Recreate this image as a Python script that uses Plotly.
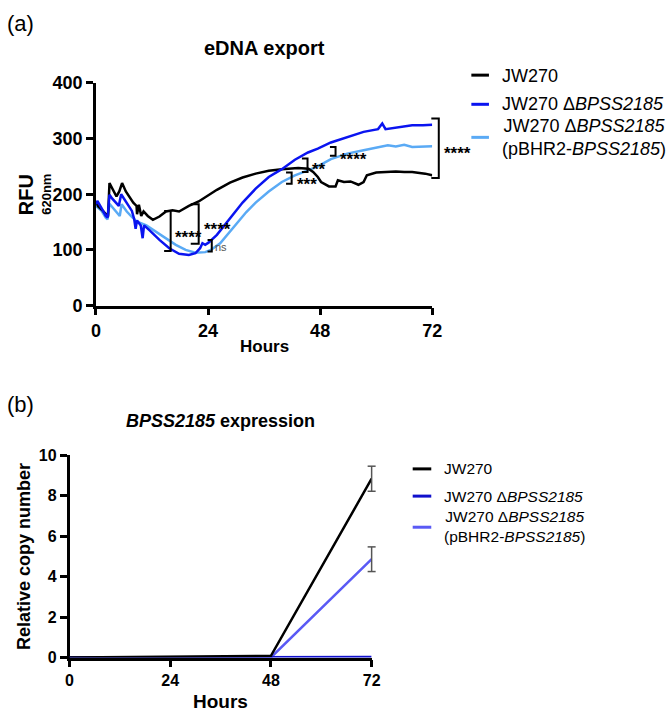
import plotly.graph_objects as go

# ---------------- Panel (a) data: eDNA export (RFU 620nm) ----------------
hours_jw = [0, 0.5, 1.5, 2.6, 2.9, 3.6, 4.4, 5.0, 5.6, 6.4, 7.3, 8.0, 8.7, 8.8, 9.2, 9.7, 10.2,
            11.1, 12.2, 13.6, 15.0, 16.4, 17.8, 19.9, 22.0, 23.7, 25.9, 28.7, 31.4, 34.2,
            37.0, 39.8, 43.3, 45.5, 46.5, 47.5, 48.2, 49.9, 51.3, 51.8, 53.1, 54.5, 56.2,
            57.3, 58.0, 60.0, 62.0, 64.2, 66.0, 67.7, 70.5, 72.0]
rfu_jw = [187, 178, 170, 160, 220, 210, 196, 205, 220, 205, 193, 185, 179, 164, 181, 161, 169,
          161, 154, 160, 169, 171, 169, 179, 187, 196, 208, 221, 230, 237,
          242, 245, 247, 246, 240, 231, 222, 214, 214, 225, 222, 223, 217,
          222, 234, 239, 240, 241, 240, 240, 237, 234]

hours_del = [0, 0.3, 1.2, 2.1, 2.5, 2.9, 3.5, 4.2, 4.9, 5.4, 6.0, 6.6, 7.7, 8.2, 8.5, 8.8,
             9.6, 10.0, 10.3, 11.5, 13.6, 15.7, 17.8, 19.9, 21.3, 22.3, 22.8, 23.4, 24.1,
             25.9, 28.7, 31.4, 34.2, 37.0, 39.8, 42.6, 45.4, 47.5, 50.3, 53.8, 57.3, 60.4,
             61.3, 62.0, 64.2, 67.7, 70.0, 72.0]
rfu_del = [182, 188, 175, 161, 158, 199, 192, 185, 179, 200, 192, 185, 170, 155, 138, 153,
           144, 121, 144, 135, 118, 103, 93, 91, 94, 103, 112, 109, 113,
           127, 156, 185, 210, 231, 245, 262, 275, 282, 293, 303, 312, 317,
           327, 317, 320, 324, 324, 325]

hours_comp = [0, 1.2, 2.1, 2.5, 2.9, 3.6, 4.4, 5.1, 5.5, 6.6, 7.6, 8.7, 10.8, 12.9, 15.0,
              17.1, 19.2, 21.3, 23.4, 24.6, 26.6, 29.4, 32.2, 34.2, 37.0, 39.8, 42.6, 45.4,
              47.5, 50.3, 53.8, 57.3, 60.7, 62.5, 64.2, 66.0, 67.7, 70.0, 72.0]
rfu_comp = [179, 170, 158, 155, 183, 176, 168, 161, 182, 169, 160, 151, 144, 132, 120,
            109, 100, 95, 96, 100, 112, 140, 168, 185, 205, 222, 234, 243,
            250, 263, 273, 279, 284, 288, 286, 289, 285, 286, 286]

# significance brackets: (x hour, y bottom, y top, arm length in hours, label, label x, label y)
brackets = [
    (16.0, 98, 170, 1.4, "****", 19.9, 132),
    (22.0, 111, 182, 1.7, "****", 26.1, 145),
    (24.8, 97, 118, 0.9, "ns", 26.7, 106),
    (41.9, 219, 239, 1.2, "***", 45.2, 227),
    (45.3, 240, 264, 1.2, "**", 47.7, 253),
    (51.3, 269, 285, 1.2, "****", 55.2, 271),
    (73.4, 229, 336, 1.6, "****", 77.3, 282),
]

# ---------------- Panel (b) data: BPSS2185 expression ----------------
hours_b = [0, 24, 48, 72]
copy_jw = [0.0, 0.03, 0.08, 8.84]
copy_jw_err = [0, 0, 0, 0.62]
copy_del = [0.0, 0.0, 0.0, 0.02]
copy_comp = [0.0, 0.0, 0.0, 4.86]
copy_comp_err = [0, 0, 0, 0.61]

series_names = ["JW270", "JW270 Δ<i>BPSS2185</i>", "JW270 Δ<i>BPSS2185</i><br>(pBHR2-<i>BPSS2185</i>)"]
colors_a = ["#000000", "#0A14F0", "#5AAAF5"]
colors_b = ["#000000", "#1010CC", "#5A5AF5"]

FONT = "Liberation Sans, Arial, Helvetica, sans-serif"
W, H = 672, 720
XMAX_A, YMAX_A = 72, 400
XMAX_B, YMAX_B = 72, 10

fig = go.Figure()

# Panel (a) traces
fig.add_trace(go.Scatter(x=hours_comp, y=rfu_comp, mode="lines", line=dict(color=colors_a[2], width=2.5),
                         name=series_names[2], xaxis="x", yaxis="y", showlegend=False))
fig.add_trace(go.Scatter(x=hours_jw, y=rfu_jw, mode="lines", line=dict(color=colors_a[0], width=2.5),
                         name=series_names[0], xaxis="x", yaxis="y", showlegend=False))
fig.add_trace(go.Scatter(x=hours_del, y=rfu_del, mode="lines", line=dict(color=colors_a[1], width=2.5),
                         name=series_names[1], xaxis="x", yaxis="y", showlegend=False))

# Panel (b) traces
fig.add_trace(go.Scatter(x=hours_b, y=copy_comp, mode="lines", line=dict(color=colors_b[2], width=2.5),
                         name=series_names[2], xaxis="x2", yaxis="y2", showlegend=False, cliponaxis=False))
fig.add_trace(go.Scatter(x=hours_b, y=copy_del, mode="lines", line=dict(color=colors_b[1], width=2.5),
                         name=series_names[1], xaxis="x2", yaxis="y2", showlegend=False, cliponaxis=False))
fig.add_trace(go.Scatter(x=hours_b, y=copy_jw, mode="lines", line=dict(color=colors_b[0], width=2.5),
                         name=series_names[0], xaxis="x2", yaxis="y2", showlegend=False, cliponaxis=False))

def px_x(p):
    return p / W

def px_y(p):
    return 1 - p / H

axis_common = dict(showline=True, linewidth=2.5, linecolor="black", ticks="outside", ticklen=7,
                   tickwidth=2.5, tickcolor="black", showgrid=False, zeroline=False,
                   fixedrange=True)

fig.update_layout(
    width=W, height=H, margin=dict(l=0, r=0, t=0, b=0),
    paper_bgcolor="white", plot_bgcolor="white",
    font=dict(family=FONT, color="black"),
    xaxis=dict(domain=[px_x(93), px_x(437)], range=[0, XMAX_A], tickvals=[0, 24, 48, 72],
               anchor="y", tickfont=dict(size=18, weight="bold"), **axis_common),
    yaxis=dict(domain=[px_y(304), px_y(75)], range=[0, YMAX_A], tickvals=[0, 100, 200, 300, 400],
               anchor="x", tickfont=dict(size=18, weight="bold"), **axis_common),
    xaxis2=dict(domain=[px_x(66), px_x(375)], range=[0, XMAX_B], tickvals=[0, 24, 48, 72],
                anchor="y2", tickfont=dict(size=16, weight="bold"), layer="below traces", **axis_common),
    yaxis2=dict(domain=[px_y(666), px_y(458)], range=[0, YMAX_B], tickvals=[0, 2, 4, 6, 8, 10],
                anchor="x2", tickfont=dict(size=16, weight="bold"), layer="below traces", **axis_common),
)

annotations = []
shapes = []

def ann(text, x, y, size, xref="paper", yref="paper", xanchor="center", yanchor="middle",
        bold=False, color="black", textangle=0, yshift=0):
    annotations.append(dict(text=text, x=x, y=y, xref=xref, yref=yref, xanchor=xanchor,
                            yanchor=yanchor, showarrow=False, textangle=textangle, yshift=yshift,
                            font=dict(size=size, family=FONT, color=color,
                                      weight="bold" if bold else "normal")))

# Panel labels and titles
ann("(a)", px_x(0), px_y(14), 22, xanchor="left")
ann("(b)", px_x(0), px_y(406), 22, xanchor="left")
ann("eDNA export", px_x(265), px_y(39), 20, bold=True)
ann("<i>BPSS2185</i> expression", px_x(220), px_y(423), 18, bold=True)

# Axis titles
ann("Hours", px_x(265), px_y(346), 17, bold=True)
ann("<b>RFU</b>", px_x(21), px_y(190), 20, textangle=-90)
ann("620nm", px_x(43), px_y(190), 13, bold=True, textangle=-90)
ann("Hours", px_x(220), px_y(711), 19, bold=True)
ann("Relative copy number", px_x(20), px_y(562), 18, bold=True, textangle=-90)

# Significance brackets (panel a), placed through the axis domain (data / range)
for bx, yb, yt, arm, label, lx, ly in brackets:
    x0 = (bx - arm) / XMAX_A
    x1 = bx / XMAX_A
    y0 = yb / YMAX_A
    y1 = yt / YMAX_A
    shapes.append(dict(type="path", xref="x domain", yref="y domain",
                       path=f"M {x0} {y1} L {x1} {y1} L {x1} {y0} L {x0} {y0}",
                       line=dict(color="black", width=2)))
    if label == "ns":
        ann(label, lx / XMAX_A, ly / YMAX_A, 11, xref="x domain", yref="y domain", color="#555555")
    else:
        ann(label, lx / XMAX_A, ly / YMAX_A, 17, xref="x domain", yref="y domain", bold=True, yshift=-5)

# Error bars (panel b), from the data arrays, drawn unclipped at the axis end
for means, errs in ((copy_jw, copy_jw_err), (copy_comp, copy_comp_err)):
    for hx, m, e in zip(hours_b, means, errs):
        if e <= 0:
            continue
        xd = hx / XMAX_B
        lo, hi = (m - e) / YMAX_B, (m + e) / YMAX_B
        shapes.append(dict(type="line", xref="x2 domain", yref="y2 domain", x0=xd, x1=xd,
                           y0=lo, y1=hi, line=dict(color="#555555", width=1.5)))
        for yy in (lo, hi):
            shapes.append(dict(type="line", xref="x2 domain", yref="y2 domain",
                               xsizemode="pixel", xanchor=xd, x0=-4, x1=4, y0=yy, y1=yy,
                               line=dict(color="#555555", width=1.5)))

# Manual legends
leg_a_rows = [(67, 68), (97, 97), (131, 131)]
for (ly_line, ly_text), name, col in zip(leg_a_rows, series_names, colors_a):
    shapes.append(dict(type="line", xref="paper", yref="paper", x0=px_x(477), x1=px_x(495),
                       y0=px_y(ly_line), y1=px_y(ly_line), line=dict(color=col, width=3)))
    ann(name, px_x(506), px_y(ly_text), 18, xanchor="left")

leg_b_rows = [(472, 472), (500, 500), (532, 531)]
for (ly_line, ly_text), name, col in zip(leg_b_rows, series_names, colors_b):
    shapes.append(dict(type="line", xref="paper", yref="paper", x0=px_x(417), x1=px_x(436),
                       y0=px_y(ly_line), y1=px_y(ly_line), line=dict(color=col, width=3)))
    ann(name, px_x(447), px_y(ly_text), 15.5, xanchor="left")

fig.update_layout(annotations=annotations, shapes=shapes)

fig.write_html("out.html", config={"displayModeBar": False},
               post_script="document.body.style.margin='0';document.body.style.overflow='hidden';")
